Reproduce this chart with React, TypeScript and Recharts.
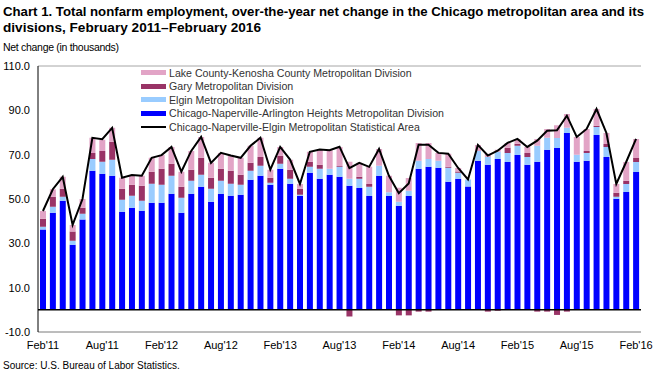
import React from 'react';
import { ComposedChart, Bar, Line, XAxis, YAxis, CartesianGrid, ReferenceLine, Legend } from 'recharts';

const months = [
  "Feb'11", "Mar'11", "Apr'11", "May'11", "Jun'11", "Jul'11", "Aug'11", "Sep'11", "Oct'11", "Nov'11", "Dec'11", "Jan'12",
  "Feb'12", "Mar'12", "Apr'12", "May'12", "Jun'12", "Jul'12", "Aug'12", "Sep'12", "Oct'12", "Nov'12", "Dec'12", "Jan'13",
  "Feb'13", "Mar'13", "Apr'13", "May'13", "Jun'13", "Jul'13", "Aug'13", "Sep'13", "Oct'13", "Nov'13", "Dec'13", "Jan'14",
  "Feb'14", "Mar'14", "Apr'14", "May'14", "Jun'14", "Jul'14", "Aug'14", "Sep'14", "Oct'14", "Nov'14", "Dec'14", "Jan'15",
  "Feb'15", "Mar'15", "Apr'15", "May'15", "Jun'15", "Jul'15", "Aug'15", "Sep'15", "Oct'15", "Nov'15", "Dec'15", "Jan'16",
  "Feb'16",
];

const chicago = [
  36.2, 43.8, 49.2, 29.4, 40.7, 62.7, 61.4, 60.5, 44.3, 46.0, 44.7, 48.3,
  48.3, 52.4, 43.8, 52.4, 55.5, 48.8, 52.4, 51.5, 51.9, 58.7, 60.5, 56.4,
  63.6, 56.9, 51.5, 61.8, 59.1, 60.9, 60.0, 56.0, 55.0, 51.4, 60.5, 51.4,
  47.0, 51.4, 63.6, 64.5, 64.1, 57.8, 59.1, 55.6, 67.2, 65.4, 68.1, 66.7,
  69.9, 65.4, 66.8, 72.2, 73.0, 79.8, 66.8, 67.2, 78.9, 69.0, 50.1, 53.2,
  62.2,
];

const elgin = [
  1.3, 2.7, 1.8, 1.8, 2.7, 5.4, 5.4, 7.2, 5.4, 5.5, 4.5, 8.6,
  8.1, 8.1, 6.8, 5.8, 5.4, 5.8, 5.8, 5.4, 4.5, 4.0, 4.5, 0.9,
  2.3, 2.2, 0.4, 2.7, 4.5, 2.7, 4.5, 3.1, 4.1, 4.1, 4.5, 1.7,
  1.8, 2.3, 3.6, 3.6, 3.1, 6.3, 2.7, 3.2, 4.5, 3.6, 3.2, 4.1,
  4.1, 3.6, 7.2, 5.4, 4.5, 2.3, 3.2, 3.6, 3.6, 4.5, 0.9, 3.6,
  4.5,
];

const gary = [
  3.6, 4.5, 3.6, 4.1, 2.7, 2.7, 4.9, 8.1, 4.9, 4.9, 6.8, 5.4,
  7.2, 5.4, 4.9, 5.0, 7.7, 5.0, 5.4, 5.8, 4.5, 3.6, 4.0, 2.3,
  3.6, 4.1, 2.7, 2.3, 1.8, 0.0, 0.4, -3.0, 0.9, 1.3, 0.0, 0.0,
  -2.5, -2.5, -0.8, -0.8, 0.0, 0.4, 0.6, 0.0, 0.0, -0.8, -0.4, 2.3,
  0.9, 1.8, -0.8, -0.8, -2.3, -0.8, 0.0, 0.9, 0.5, 1.3, 1.8, 1.4,
  1.8,
];

const lake = [
  3.5, 3.4, 5.4, 3.0, 3.9, 6.8, 5.0, 6.3, 5.0, 4.1, 4.5, 6.3,
  6.2, 7.6, 6.8, 8.5, 9.4, 6.7, 7.2, 6.8, 7.7, 7.7, 8.6, 3.6,
  4.0, 4.5, 2.2, 4.5, 6.8, 8.4, 8.6, 7.7, 6.3, 7.7, 7.6, 7.4,
  6.3, 5.8, 8.1, 7.2, 3.6, 5.9, 1.6, 0.0, 2.7, 1.4, 0.9, 2.2,
  2.2, 2.7, 3.1, 4.0, 5.8, 6.3, 8.0, 9.9, 7.6, 5.0, 4.0, 8.5,
  8.6,
];

const total = [
  44.6, 54.4, 60.0, 38.3, 50.0, 77.6, 77.0, 82.1, 59.6, 60.8, 60.5, 68.6,
  69.8, 73.5, 62.3, 71.7, 78.0, 66.3, 70.8, 69.6, 68.6, 74.0, 77.6, 63.2,
  73.5, 67.8, 56.8, 71.3, 72.3, 72.0, 73.6, 63.9, 66.3, 64.5, 72.6, 60.5,
  52.6, 57.0, 74.5, 74.5, 70.8, 70.4, 64.0, 58.8, 74.4, 69.6, 71.8, 75.3,
  77.1, 73.5, 76.3, 80.8, 81.0, 87.6, 78.0, 81.6, 90.6, 79.8, 56.8, 66.7,
  77.1,
];

const yTicks = [-10, 10, 30, 50, 70, 90, 110];

const seriesNames = {
  lake: 'Lake County-Kenosha County Metropolitan Division',
  gary: 'Gary Metropolitan Division',
  elgin: 'Elgin Metropolitan Division',
  chicago: 'Chicago-Naperville-Arlington Heights Metropolitan Division',
  total: 'Chicago-Naperville-Elgin Metropolitan Statistical Area',
};

const colors = {
  chicago: '#0000FF',
  elgin: '#99CCFF',
  gary: '#993366',
  lake: '#E2A4C6',
  total: '#000000',
};

const data = months.map((m, i) => ({
  month: m,
  chicago: chicago[i],
  elgin: elgin[i],
  gary: gary[i],
  lake: lake[i],
  total: total[i],
}));

const FONT = '"Liberation Sans", Arial, sans-serif';

const legendOrder = ['lake', 'gary', 'elgin', 'chicago', 'total'] as const;

const renderLegend = () => (
  <div style={{ fontFamily: FONT, fontSize: 10.6, color: '#333' }}>
    {legendOrder.map((k) => (
      <div key={k} style={{ display: 'flex', alignItems: 'center', height: 13.5, whiteSpace: 'nowrap' }}>
        {k === 'total' ? (
          <div style={{ width: 25, height: 2, background: colors[k], marginRight: 3 }} />
        ) : (
          <div style={{ width: 25, height: 5, background: colors[k], marginRight: 3 }} />
        )}
        <span>{seriesNames[k]}</span>
      </div>
    ))}
  </div>
);

export default function App() {
  return (
    <div style={{ position: 'absolute', left: 0, top: 0, width: 662, height: 375, background: '#fff', overflow: 'hidden' }}>
      <svg width={662} height={40} style={{ position: 'absolute', left: 0, top: 0 }}>
        <text x={3} y={16} fontFamily={FONT} fontWeight="bold" fontSize={13} fill="#000" textLength={641} lengthAdjust="spacingAndGlyphs">
          Chart 1. Total nonfarm employment, over-the-year net change in the Chicago metropolitan area and its
        </text>
        <text x={3} y={32} fontFamily={FONT} fontWeight="bold" fontSize={13} fill="#000" textLength={258} lengthAdjust="spacingAndGlyphs">
          divisions,  February 2011–February 2016
        </text>
      </svg>
      <div style={{ position: 'absolute', left: 3, top: 41, fontFamily: FONT, fontSize: 10.5, color: '#000', whiteSpace: 'nowrap', letterSpacing: -0.3 }}>
        Net change (in thousands)
      </div>
      <div style={{ position: 'absolute', left: 3, top: 360, fontFamily: FONT, fontSize: 10, color: '#000', whiteSpace: 'nowrap' }}>
        Source: U.S. Bureau of Labor Statistics.
      </div>
      <div style={{ position: 'absolute', left: 0, top: 0 }}>
        <ComposedChart
          width={662}
          height={375}
          data={data}
          stackOffset="sign"
          margin={{ top: 66, right: 21, bottom: 13, left: 0 }}
          barGap={0}
        >
          <CartesianGrid vertical={false} stroke="#A6A6A6" strokeWidth={1} />
          <XAxis
            dataKey="month"
            interval={5}
            height={30}
            tickLine={false}
            axisLine={{ stroke: '#A6A6A6' }}
            tick={{ fill: '#000', fontSize: 11, fontFamily: FONT }}
            tickMargin={3}
          />
          <YAxis
            yAxisId="left"
            width={38}
            domain={[-10, 110]}
            ticks={yTicks}
            interval={0}
            tickLine={false}
            axisLine={{ stroke: '#000' }}
            tickFormatter={(v) => Number(v).toFixed(1)}
            tick={{ fill: '#000', fontSize: 11, fontFamily: FONT }}
            allowDataOverflow
          />
          <YAxis
            yAxisId="right"
            orientation="right"
            width={0}
            domain={[-10, 110]}
            ticks={yTicks}
            tick={false}
            tickLine={false}
            axisLine={{ stroke: '#A6A6A6' }}
          />
          <Legend
            content={renderLegend}
            layout="vertical"
            align="center"
            verticalAlign="middle"
            wrapperStyle={{ left: 141, top: 66, width: 320, height: 70 }}
          />
          <Bar yAxisId="left" dataKey="chicago" name={seriesNames.chicago} stackId="a" fill={colors.chicago} barSize={6} isAnimationActive={false} />
          <Bar yAxisId="left" dataKey="elgin" name={seriesNames.elgin} stackId="a" fill={colors.elgin} barSize={6} isAnimationActive={false} />
          <Bar yAxisId="left" dataKey="gary" name={seriesNames.gary} stackId="a" fill={colors.gary} barSize={6} isAnimationActive={false} />
          <Bar yAxisId="left" dataKey="lake" name={seriesNames.lake} stackId="a" fill={colors.lake} barSize={6} isAnimationActive={false} />
          <ReferenceLine yAxisId="left" y={0} stroke="#000" strokeWidth={1.5} />
          <Line
            yAxisId="left"
            type="linear"
            dataKey="total"
            name={seriesNames.total}
            stroke="#000"
            strokeWidth={2}
            dot={false}
            isAnimationActive={false}
          />
        </ComposedChart>
      </div>
    </div>
  );
}
